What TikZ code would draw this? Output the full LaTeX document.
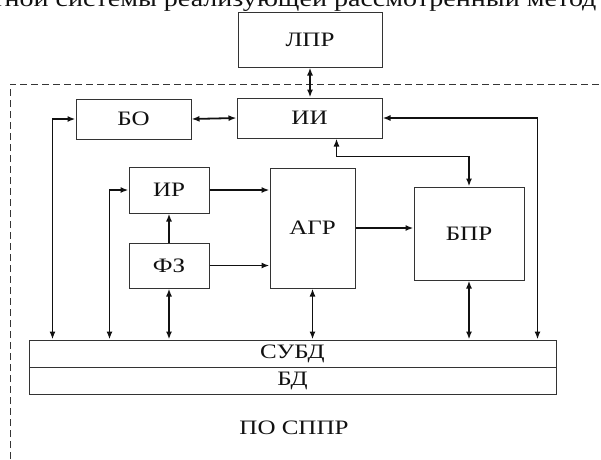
\documentclass[tikz,border=0pt]{standalone}
\usepackage{fontspec}
\setmainfont{Liberation Serif}[FakeStretch=1.22]
\usetikzlibrary{arrows.meta,positioning,calc}
\definecolor{ink}{HTML}{111111}
\definecolor{boxcol}{HTML}{333333}

\begin{document}
\begin{tikzpicture}[
  x=1pt, y=-1pt, line cap=butt, line join=miter,
  font=\fontsize{20.5}{24}\selectfont,
  blk/.style={draw=boxcol, line width=1pt, inner sep=0pt, text=ink},
  bus/.style={blk, minimum width=527, minimum height=27},
  fl/.style={-{Latex[length=8pt,width=6pt]}, ink, line width=1.8pt},
  dfl/.style={{Latex[length=8pt,width=6pt]}-{Latex[length=8pt,width=6pt]}, ink, line width=1.8pt},
  frame/.style={ink!85, line width=0.9pt, dash pattern=on 7pt off 4pt}]

\clip (0,0) rectangle (601,459);

% ================================================ caption line (cut off)
\node[anchor=base east, text=ink, font=\fontsize{23}{26}\selectfont] (cap) at (600,6)
  {экспертной системы реализующей рассмотренный метод};

% ================================================ dashed frame of the software
\draw[frame] (10,470) -- (10,84) -- (610,84);
\node[text=ink] (po) at (294,428) {ПО СППР};

% ================================================ blocks
\node[blk, minimum width=144, minimum height=55] (lpr) at (310,39.5) {ЛПР};
\node[blk, minimum width=145, minimum height=40] (ii)  at (309.5,118) {ИИ};
\node[blk, minimum width=115, minimum height=40] (bo)  at (133.5,119) {БО};
\node[blk, minimum width=80,  minimum height=46] (ir)  at (169,190) {ИР};
\node[blk, minimum width=80,  minimum height=45] (fz)  at (169,265.5) {ФЗ};
\node[blk, minimum width=85,  minimum height=120] (agr) at (312.5,228) {АГР};
\node[blk, minimum width=110, minimum height=93] (bpr) at (469,233.5) {БПР};
\node[bus] (subd) at (292.5,353.5) {СУБД};
\node[bus] (bd)   at (292.5,380.5) {БД};

% ================================================ links
\draw[dfl] (lpr.south) -- (lpr.south |- ii.north);
\draw[dfl] (bo.east) -- (ii.west);
\draw[dfl] (bo.west) -| ([xshift=24]subd.north west);
\draw[dfl] (ir.west) -| ([xshift=81]subd.north west);
\draw[dfl] (ii.east) -| ([xshift=-19]subd.north east);
\draw[dfl] ([xshift=27]ii.south) -- ++(0,18) -| (bpr.north);
\draw[fl] (fz.north) -- (ir.south);
\draw[fl] (ir.east) -- (ir.east -| agr.west);
\draw[fl] (fz.east) -- (fz.east -| agr.west);
\draw[fl] (agr.east) -- (agr.east -| bpr.west);
\draw[dfl] (fz.south) -- (fz.south |- subd.north);
\draw[dfl] (agr.south) -- (agr.south |- subd.north);
\draw[dfl] (bpr.south) -- (bpr.south |- subd.north);

\end{tikzpicture}
\end{document}
